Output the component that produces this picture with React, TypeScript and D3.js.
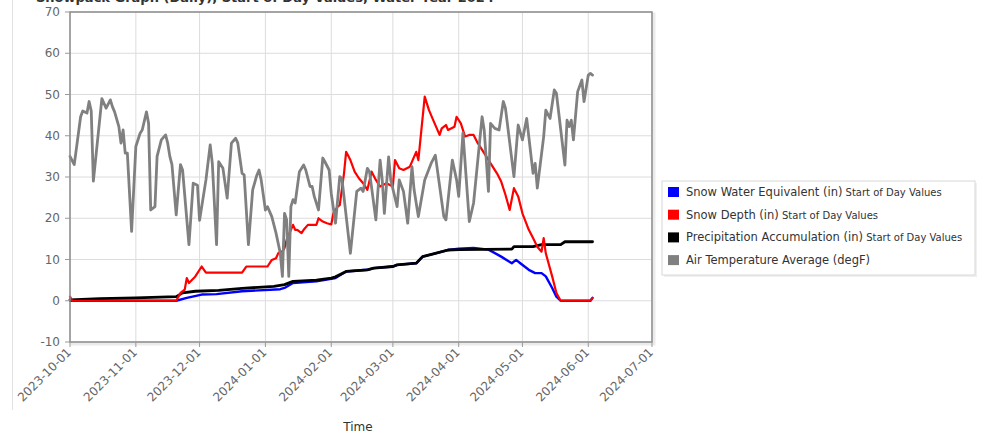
import React from "react";
import * as d3 from "d3";

const yTicks = [-10, 0, 10, 20, 30, 40, 50, 60, 70];
const xTickLabels = [
  "2023-10-01", "2023-11-01", "2023-12-01", "2024-01-01", "2024-02-01",
  "2024-03-01", "2024-04-01", "2024-05-01", "2024-06-01", "2024-07-01",
];

const legendNames = [
  ["Snow Water Equivalent (in)", " Start of Day Values"],
  ["Snow Depth (in)", " Start of Day Values"],
  ["Precipitation Accumulation (in)", " Start of Day Values"],
  ["Air Temperature Average (degF)", ""],
];
const legendColors = ["#0000ff", "#ff0000", "#000000", "#808080"];

const sweValues: [string, number][] = [
  ["2023-10-01", 0], ["2023-11-20", 0], ["2023-11-25", 0.7], ["2023-12-02", 1.5],
  ["2023-12-09", 1.6], ["2023-12-21", 2.3], ["2024-01-08", 2.8], ["2024-01-10", 3.1],
  ["2024-01-14", 4.3], ["2024-01-25", 4.7], ["2024-02-01", 5.3], ["2024-02-03", 5.5],
  ["2024-02-08", 7.1], ["2024-02-18", 7.5], ["2024-02-21", 7.9], ["2024-03-01", 8.3],
  ["2024-03-03", 8.7], ["2024-03-12", 9.1], ["2024-03-15", 10.7], ["2024-03-21", 11.5],
  ["2024-03-27", 12.3], ["2024-04-01", 12.6], ["2024-04-08", 12.8], ["2024-04-15", 12.4],
  ["2024-04-21", 10.7], ["2024-04-26", 9.1], ["2024-04-28", 9.9], ["2024-04-30", 9.1],
  ["2024-05-04", 7.5], ["2024-05-07", 6.7], ["2024-05-10", 6.7], ["2024-05-12", 5.9],
  ["2024-05-15", 3.1], ["2024-05-17", 1.0], ["2024-05-19", 0], ["2024-06-02", 0],
  ["2024-06-03", 0.7],
];

const depthValues: [string, number][] = [
  ["2023-10-01", 1], ["2023-10-02", 0], ["2023-11-20", 0], ["2023-11-22", 1.9],
  ["2023-11-24", 2.7], ["2023-11-25", 5.5], ["2023-11-26", 4.3], ["2023-11-29", 5.9],
  ["2023-12-02", 8.3], ["2023-12-04", 6.8], ["2023-12-21", 6.8], ["2023-12-23", 8.3],
  ["2024-01-02", 8.3], ["2024-01-04", 9.9], ["2024-01-06", 10.3], ["2024-01-07", 11.5],
  ["2024-01-08", 11.9], ["2024-01-09", 11.9], ["2024-01-10", 12.8], ["2024-01-11", 14.8],
  ["2024-01-14", 18.4], ["2024-01-15", 17.2], ["2024-01-16", 17.2], ["2024-01-18", 16.4],
  ["2024-01-19", 17.2], ["2024-01-21", 18.4], ["2024-01-25", 18.4], ["2024-01-26", 20],
  ["2024-01-28", 19.2], ["2024-01-30", 18.8], ["2024-02-01", 18.5], ["2024-02-02", 21.2],
  ["2024-02-04", 22.8], ["2024-02-05", 23.2], ["2024-02-07", 30.9], ["2024-02-08", 36.1],
  ["2024-02-10", 34.1], ["2024-02-12", 31.3], ["2024-02-14", 29.7], ["2024-02-16", 28.5],
  ["2024-02-18", 26.9], ["2024-02-20", 31.3], ["2024-02-22", 29.3], ["2024-02-24", 27.7],
  ["2024-02-27", 28.5], ["2024-03-01", 27.7], ["2024-03-02", 34.1], ["2024-03-04", 32.1],
  ["2024-03-06", 31.7], ["2024-03-09", 32.5], ["2024-03-12", 36.1], ["2024-03-13", 34.1],
  ["2024-03-16", 49.5], ["2024-03-18", 46.2], ["2024-03-20", 43.8], ["2024-03-23", 40.2],
  ["2024-03-24", 41.8], ["2024-03-26", 42.6], ["2024-03-27", 41.4], ["2024-03-30", 42.2],
  ["2024-03-31", 44.6], ["2024-04-02", 43], ["2024-04-04", 39.8], ["2024-04-06", 40.2],
  ["2024-04-08", 40.2], ["2024-04-10", 38.2], ["2024-04-13", 35.8], ["2024-04-16", 33.3],
  ["2024-04-19", 30.9], ["2024-04-21", 28.9], ["2024-04-23", 25.7], ["2024-04-25", 22],
  ["2024-04-27", 27.3], ["2024-04-29", 25.3], ["2024-05-01", 21.2], ["2024-05-04", 17.2],
  ["2024-05-06", 15.2], ["2024-05-08", 13.1], ["2024-05-10", 11.9], ["2024-05-11", 15.2],
  ["2024-05-12", 11.5], ["2024-05-15", 5.9], ["2024-05-17", 1.9], ["2024-05-19", 0],
  ["2024-06-02", 0], ["2024-06-03", 0.7],
];

const precipValues: [string, number][] = [
  ["2023-10-01", 0.2], ["2023-10-15", 0.5], ["2023-11-01", 0.7], ["2023-11-20", 1.0],
  ["2023-11-23", 1.9], ["2023-11-29", 2.3], ["2023-12-10", 2.5], ["2023-12-21", 3.0],
  ["2024-01-05", 3.5], ["2024-01-10", 3.9], ["2024-01-14", 4.7], ["2024-01-25", 5.0],
  ["2024-02-01", 5.5], ["2024-02-03", 5.8], ["2024-02-08", 7.1], ["2024-02-18", 7.5],
  ["2024-02-21", 7.9], ["2024-03-01", 8.3], ["2024-03-03", 8.7], ["2024-03-12", 9.1],
  ["2024-03-15", 10.7], ["2024-03-21", 11.5], ["2024-03-27", 12.3], ["2024-04-01", 12.4],
  ["2024-04-26", 12.5], ["2024-04-27", 13.1], ["2024-05-06", 13.1], ["2024-05-10", 13.6],
  ["2024-05-19", 13.6], ["2024-05-21", 14.3], ["2024-06-03", 14.3],
];

const tempValues: [string, number][] = [
  ["2023-10-01", 35], ["2023-10-03", 33], ["2023-10-06", 44.6], ["2023-10-07", 46],
  ["2023-10-09", 45.5], ["2023-10-10", 48.3], ["2023-10-11", 46], ["2023-10-12", 29],
  ["2023-10-16", 49], ["2023-10-18", 46.7], ["2023-10-20", 48.7], ["2023-10-21", 47],
  ["2023-10-22", 45.8], ["2023-10-24", 42.2], ["2023-10-25", 38.2], ["2023-10-26", 41.4],
  ["2023-10-27", 35.8], ["2023-10-28", 35.8], ["2023-10-30", 16.8], ["2023-11-01", 37.4],
  ["2023-11-03", 40.6], ["2023-11-04", 41.4], ["2023-11-06", 45.8], ["2023-11-07", 43],
  ["2023-11-08", 22], ["2023-11-10", 22.8], ["2023-11-11", 35], ["2023-11-13", 39],
  ["2023-11-15", 40.2], ["2023-11-16", 38.2], ["2023-11-17", 35], ["2023-11-18", 33],
  ["2023-11-20", 20.8], ["2023-11-22", 33], ["2023-11-23", 31.7], ["2023-11-26", 13.6],
  ["2023-11-28", 28.5], ["2023-11-30", 28], ["2023-12-01", 19.5], ["2023-12-04", 29.3],
  ["2023-12-06", 37.8], ["2023-12-07", 33.3], ["2023-12-09", 13.6], ["2023-12-10", 33.7],
  ["2023-12-12", 32.1], ["2023-12-14", 24.9], ["2023-12-16", 38.2], ["2023-12-18", 39.4],
  ["2023-12-19", 38.2], ["2023-12-21", 30.9], ["2023-12-22", 30.5], ["2023-12-24", 13.6],
  ["2023-12-26", 26.9], ["2023-12-28", 30.5], ["2023-12-29", 31.7], ["2023-12-30", 29.3],
  ["2024-01-01", 22], ["2024-01-02", 22.8], ["2024-01-04", 20.4], ["2024-01-06", 16.4],
  ["2024-01-08", 11.5], ["2024-01-09", 5.9], ["2024-01-10", 21.2], ["2024-01-11", 19.6],
  ["2024-01-12", 5.9], ["2024-01-13", 22.8], ["2024-01-14", 24.5], ["2024-01-15", 23.7],
  ["2024-01-17", 31.3], ["2024-01-19", 32.9], ["2024-01-20", 31.7], ["2024-01-22", 27.7],
  ["2024-01-23", 27.7], ["2024-01-24", 25.3], ["2024-01-26", 22], ["2024-01-28", 34.6],
  ["2024-01-29", 33.7], ["2024-01-31", 31.7], ["2024-02-01", 26], ["2024-02-03", 18.8],
  ["2024-02-05", 30.1], ["2024-02-06", 29.7], ["2024-02-10", 11.5], ["2024-02-13", 26.5],
  ["2024-02-15", 27.3], ["2024-02-16", 26.5], ["2024-02-18", 32.1], ["2024-02-19", 31.3],
  ["2024-02-22", 19.6], ["2024-02-24", 34.1], ["2024-02-25", 29.3], ["2024-02-26", 21.2],
  ["2024-02-28", 34.9], ["2024-02-29", 29.3], ["2024-03-03", 22.8], ["2024-03-04", 29.3],
  ["2024-03-06", 26.5], ["2024-03-08", 18.8], ["2024-03-10", 32.5], ["2024-03-11", 26.9],
  ["2024-03-13", 20.4], ["2024-03-16", 29.3], ["2024-03-19", 33.3], ["2024-03-21", 35.3],
  ["2024-03-25", 20.4], ["2024-03-26", 19.6], ["2024-03-29", 34.1], ["2024-03-31", 29.3],
  ["2024-04-01", 25.3], ["2024-04-03", 40.7], ["2024-04-06", 19.2], ["2024-04-08", 23.7],
  ["2024-04-12", 44.6], ["2024-04-13", 41.4], ["2024-04-15", 26.5], ["2024-04-16", 43],
  ["2024-04-18", 41.8], ["2024-04-20", 41.4], ["2024-04-22", 48.3], ["2024-04-23", 46.7],
  ["2024-04-27", 30.1], ["2024-04-29", 42.6], ["2024-05-01", 39], ["2024-05-03", 44.2],
  ["2024-05-06", 30.9], ["2024-05-07", 33.3], ["2024-05-08", 27.3], ["2024-05-11", 39.8],
  ["2024-05-12", 46.2], ["2024-05-14", 44.2], ["2024-05-16", 51.1], ["2024-05-17", 50.3],
  ["2024-05-21", 32.9], ["2024-05-22", 43.8], ["2024-05-23", 42.2], ["2024-05-24", 43.8],
  ["2024-05-25", 39], ["2024-05-27", 50.7], ["2024-05-29", 53.5], ["2024-05-30", 48.3],
  ["2024-06-01", 54.7], ["2024-06-02", 55.1], ["2024-06-03", 54.7],
];

const titleText = "Snowpack Graph (Daily), Start of Day Values, Water Year 2024";
const xAxisTitle = "Time";

const W = 990;
const H = 435;
const FONT = "'DejaVu Sans', Verdana, sans-serif";

export default function App() {
  const parse = d3.timeParse("%Y-%m-%d");
  const left = 70, right = 652, top = 12, bottom = 342;
  const x = d3
    .scaleTime()
    .domain([parse(xTickLabels[0])!, parse(xTickLabels[xTickLabels.length - 1])!])
    .range([left, right]);
  const y = d3.scaleLinear().domain([-10, 70]).range([bottom, top]);
  const line = d3
    .line<[string, number]>()
    .x((d) => x(parse(d[0])!))
    .y((d) => y(d[1]));

  const series = [
    { data: sweValues, color: legendColors[0], w: 2.4 },
    { data: precipValues, color: legendColors[2], w: 2.8 },
    { data: depthValues, color: legendColors[1], w: 2.2 },
    { data: tempValues, color: legendColors[3], w: 2.8 },
  ];

  const lg = { x: 662, y: 181, w: 313, h: 94 };

  return (
    <svg
      width={W}
      height={H}
      style={{ position: "absolute", left: 0, top: 0, background: "#fff" }}
      fontFamily={FONT}
    >
      <rect x={0} y={0} width={W} height={H} fill="#fff" />
      <line x1={12.5} y1={0} x2={12.5} y2={410} stroke="#e2e2e2" strokeWidth={1} />
      <text x={36} y={2} fontSize={13} fontWeight="bold" fill="#333">
        {titleText}
      </text>

      {/* plot shadow */}
      <rect x={left + 2} y={top + 2} width={right - left} height={bottom - top} fill="none" stroke="#000" strokeOpacity={0.08} strokeWidth={3} />
      <rect x={left} y={top} width={right - left} height={bottom - top} fill="#fff" />

      {/* grid */}
      {yTicks.map((t) => (
        <line key={"gy" + t} x1={left} x2={right} y1={y(t)} y2={y(t)} stroke="#dcdcdc" strokeWidth={1} />
      ))}
      {xTickLabels.map((t) => (
        <line key={"gx" + t} x1={x(parse(t)!)} x2={x(parse(t)!)} y1={top} y2={bottom} stroke="#dcdcdc" strokeWidth={1} />
      ))}

      {/* series */}
      {series.map((s, i) => (
        <path key={i} d={line(s.data) || ""} fill="none" stroke={s.color} strokeWidth={s.w} strokeLinejoin="round" strokeLinecap="round" />
      ))}

      {/* frame */}
      <rect x={left} y={top} width={right - left} height={bottom - top} fill="none" stroke="#8c8c8c" strokeWidth={1.5} />

      {/* y axis */}
      {yTicks.map((t) => (
        <g key={"yt" + t}>
          <line x1={left - 5} x2={left} y1={y(t)} y2={y(t)} stroke="#999" />
          <text x={left - 10} y={y(t) + 4} textAnchor="end" fontSize={12} fill="#666">
            {t}
          </text>
        </g>
      ))}

      {/* x axis */}
      {xTickLabels.map((t) => {
        const px = x(parse(t)!);
        return (
          <g key={"xt" + t}>
            <line x1={px} x2={px} y1={bottom} y2={bottom + 5} stroke="#999" />
            <text
              transform={`translate(${px + 2},${bottom + 11}) rotate(-45)`}
              textAnchor="end"
              fontSize={12}
              fill="#666"
            >
              {t}
            </text>
          </g>
        );
      })}
      <text x={358} y={431} textAnchor="middle" fontSize={12} fill="#333">
        {xAxisTitle}
      </text>

      {/* legend */}
      <rect x={lg.x + 2} y={lg.y + 2} width={lg.w} height={lg.h} fill="#000" fillOpacity={0.06} />
      <rect x={lg.x} y={lg.y} width={lg.w} height={lg.h} fill="#fff" stroke="#d8d8d8" strokeWidth={1} />
      {legendNames.map((n, i) => {
        const cy = lg.y + 11 + i * 22.7;
        return (
          <g key={"lg" + i}>
            <rect x={lg.x + 6} y={cy - 5} width={11} height={10} fill={legendColors[i]} />
            <text x={lg.x + 24} y={cy + 4} fontSize={11.5} fill="#333">
              {n[0]}
              <tspan fontSize={10}>{n[1]}</tspan>
            </text>
          </g>
        );
      })}
    </svg>
  );
}
